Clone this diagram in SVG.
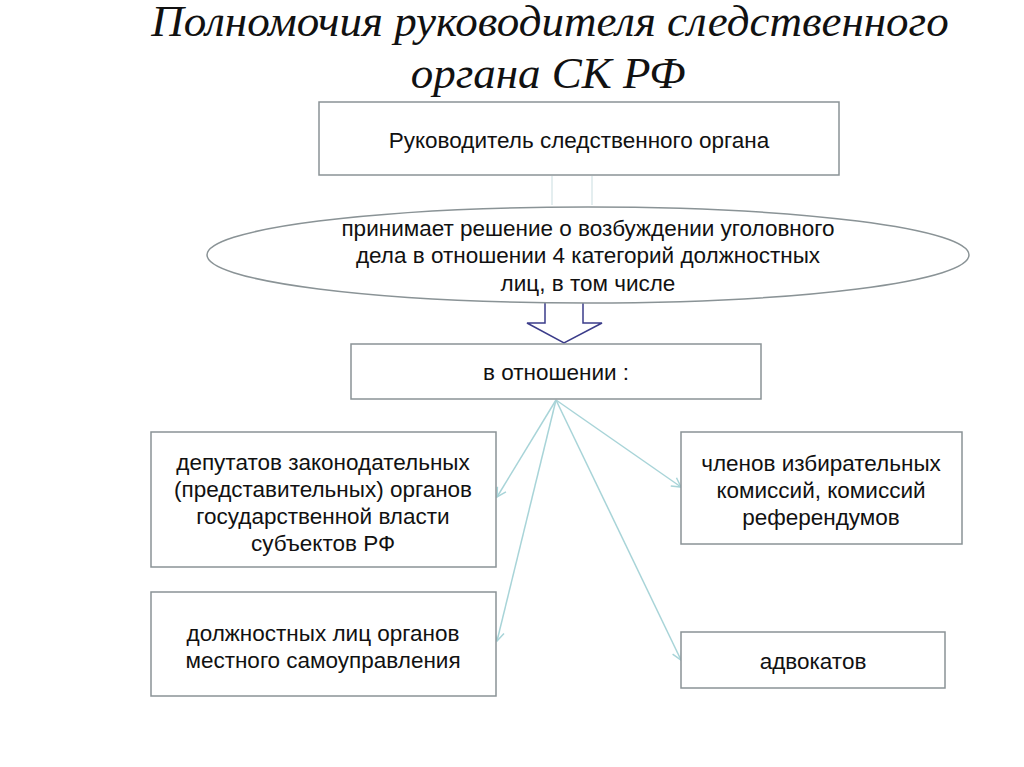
<svg xmlns="http://www.w3.org/2000/svg" width="1024" height="767" viewBox="0 0 1024 767">
<defs>
<style>
.b{fill:#fff;stroke:#8a9396;stroke-width:1.5}
.t{font-family:"Liberation Sans",Arial,sans-serif;font-size:22.5px;fill:#111;text-anchor:middle}
.c{stroke:#a8d4d8;stroke-width:1.5;fill:none}
</style>
<marker id="a" markerWidth="12" markerHeight="12" refX="10" refY="6" orient="auto" markerUnits="userSpaceOnUse"><path d="M1,1 L10,6 L1,11" fill="none" stroke="#a8d4d8" stroke-width="1.5"/></marker>
</defs>
<rect width="1024" height="767" fill="#fff"/>
<text x="550" y="36" font-family="Liberation Serif,serif" font-style="italic" font-size="45" text-anchor="middle" fill="#111">Полномочия руководителя следственного</text>
<text x="548" y="88" font-family="Liberation Serif,serif" font-style="italic" font-size="45" text-anchor="middle" fill="#111">органа СК РФ</text>
<g id="connectors">
<line x1="552" y1="176" x2="552" y2="205" stroke="#c9dde0" stroke-width="1"/>
<line x1="592" y1="176" x2="592" y2="205" stroke="#c9dde0" stroke-width="1"/>
<path d="M545,302 L583,302 L583,323 L602,323 L564,343 L527,323 L545,323 Z" fill="#fff" stroke="#3b3c8a" stroke-width="1.5"/>
<line class="c" x1="556" y1="400" x2="497" y2="497" marker-end="url(#a)"/>
<line class="c" x1="556" y1="400" x2="497" y2="641" marker-end="url(#a)"/>
<line class="c" x1="556" y1="400" x2="681" y2="487" marker-end="url(#a)"/>
<line class="c" x1="556" y1="400" x2="681" y2="660" marker-end="url(#a)"/>
</g>
<g id="n1"><rect class="b" x="319" y="102" width="520" height="73"/><text class="t" x="579" y="148">Руководитель следственного органа</text></g>
<g id="n2"><ellipse class="b" cx="588" cy="255" rx="381" ry="48"/>
<text class="t" x="588" y="236">принимает решение о возбуждении уголовного</text>
<text class="t" x="588" y="263">дела в отношении 4 категорий должностных</text>
<text class="t" x="588" y="291">лиц, в том числе</text></g>
<g id="n3"><rect class="b" x="351" y="344" width="410" height="55"/><text class="t" x="556" y="380">в отношении :</text></g>
<g id="n4"><rect class="b" x="151" y="432" width="345" height="135"/>
<text class="t" x="323" y="470">депутатов законодательных</text>
<text class="t" x="323" y="497">(представительных) органов</text>
<text class="t" x="323" y="524">государственной власти</text>
<text class="t" x="323" y="551">субъектов РФ</text></g>
<g id="n5"><rect class="b" x="151" y="592" width="345" height="104"/>
<text class="t" x="323" y="641">должностных лиц органов</text>
<text class="t" x="323" y="668">местного самоуправления</text></g>
<g id="n6"><rect class="b" x="681" y="432" width="281" height="112"/>
<text class="t" x="821" y="471">членов избирательных</text>
<text class="t" x="821" y="498">комиссий, комиссий</text>
<text class="t" x="821" y="525">референдумов</text></g>
<g id="n7"><rect class="b" x="681" y="632" width="264" height="56"/><text class="t" x="813" y="669">адвокатов</text></g>
</svg>
